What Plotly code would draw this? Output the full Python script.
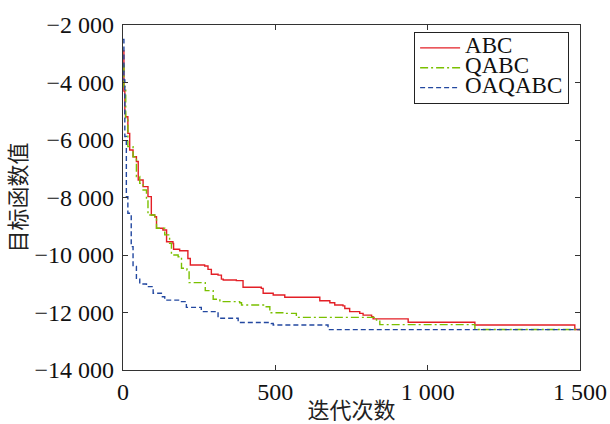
import plotly.graph_objects as go

# ---- data ----
abc_x = [0, 3, 6, 8, 16, 22, 33, 44, 50, 66, 82, 93, 104, 110, 131, 143, 164, 166, 186,
         213, 221, 268, 279, 290, 312, 323, 329, 372, 394, 454, 460, 493, 531, 646, 679,
         695, 722, 728, 744, 777, 788, 816, 821, 936, 1155, 1483, 1500]
abc_y = [-2900, -4300, -5070, -5190, -5770, -6350, -6580, -6750, -7390, -7620, -7970,
         -8610, -8670, -9070, -9130, -9540, -9600, -9800, -9850, -10120, -10350, -10380,
         -10500, -10670, -10700, -10840, -10870, -10890, -11120, -11160, -11330, -11390,
         -11470, -11590, -11660, -11740, -11770, -11860, -11970, -12030, -12090, -12150,
         -12220, -12340, -12435, -12590, -12590]

qabc_x = [0, 3, 9, 16, 33, 44, 55, 66, 77, 82, 104, 110, 137, 153, 159, 181, 192, 210,
          217, 270, 296, 318, 329, 383, 389, 465, 482, 531, 569, 832, 843, 1155, 1500]
qabc_y = [-3400, -4150, -5300, -6230, -6580, -7270, -7510, -7740, -8090, -8610, -8670,
          -9070, -9300, -9590, -10000, -10060, -10460, -10520, -10960, -11240, -11540,
          -11590, -11620, -11660, -11740, -11800, -12010, -12030, -12170, -12260, -12420,
          -12590, -12590]

oaq_x = [0, 3, 6, 11, 16, 27, 33, 44, 55, 77, 99, 126, 137, 186, 208, 257, 312, 378,
         487, 493, 652, 673, 1500]
oaq_y = [-2500, -3910, -5880, -7970, -8550, -9710, -10400, -10810, -11010, -11100,
         -11330, -11450, -11570, -11620, -11820, -11970, -12200, -12350, -12380, -12435,
         -12435, -12595, -12595]

series_names = ["ABC", "QABC", "OAQABC"]

x_ticks = [0, 500, 1000, 1500]
x_ticktext = ["0", "500", "1 000", "1 500"]
y_ticks = [-14000, -12000, -10000, -8000, -6000, -4000, -2000]
y_ticktext = ["\u221214 000", "\u221212 000", "\u221210 000", "\u22128 000",
              "\u22126 000", "\u22124 000", "\u22122 000"]

serif = "Liberation Serif"
cjk = "Noto Sans CJK SC"


def legend_label(t):
    return '<span style="font-size:23px">' + t + '</span>'


fig = go.Figure()
fig.add_trace(go.Scatter(x=abc_x, y=abc_y, mode="lines", name=legend_label(series_names[0]),
                         line=dict(color="#e31f26", width=1.4, shape="hv")))
fig.add_trace(go.Scatter(x=qabc_x, y=qabc_y, mode="lines", name=legend_label(series_names[1]),
                         line=dict(color="#7ac000", width=1.4, shape="hv",
                                   dash="8px,3px,2px,3px")))
fig.add_trace(go.Scatter(x=oaq_x, y=oaq_y, mode="lines", name=legend_label(series_names[2]),
                         line=dict(color="#2348a0", width=1.4, shape="hv",
                                   dash="5px,3px")))

axis_common = dict(showline=True, linecolor="#333333", linewidth=1.2, mirror="ticks",
                   ticks="inside", ticklen=5, tickcolor="#333333", showgrid=False,
                   zeroline=False, automargin=False,
                   tickfont=dict(family=serif, size=24, color="#111"))

fig.update_layout(
    width=610, height=424,
    margin=dict(l=123, r=30, t=25, b=54),
    paper_bgcolor="white", plot_bgcolor="white",
    showlegend=True,
    legend=dict(x=0.637, y=0.98, xanchor="left", yanchor="top",
                bordercolor="#222", borderwidth=1, bgcolor="white",
                font=dict(family=serif, size=13, color="#111"),
                tracegroupgap=0, itemwidth=40),
    xaxis=dict(range=[0, 1500], tickvals=x_ticks, ticktext=x_ticktext,
               ticklabelstandoff=0,
               title=dict(text="迭代次数", font=dict(family=cjk, size=22, color="#222"),
                          standoff=0),
               **axis_common),
    yaxis=dict(range=[-14000, -2000], tickvals=y_ticks, ticktext=y_ticktext,
               ticklabelstandoff=3,
               title=dict(text="目标函数值", font=dict(family=cjk, size=22, color="#222"),
                          standoff=2),
               **axis_common),
)

fig.write_html("out.html", config={"displayModeBar": False},
               post_script="document.body.style.margin='0';document.body.style.padding='0';")
